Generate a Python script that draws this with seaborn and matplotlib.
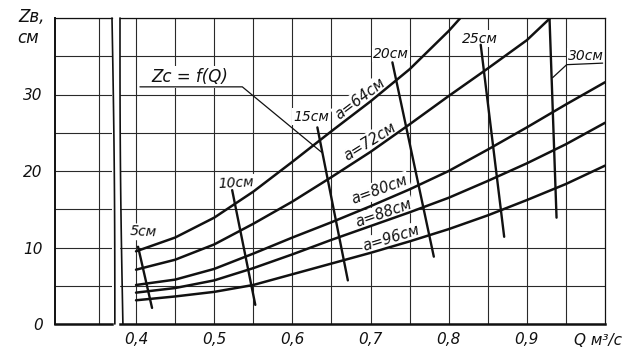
import numpy as np
import pandas as pd
import matplotlib
matplotlib.use("Agg")
import matplotlib.pyplot as plt
import seaborn as sns

# ---- data ----
a_labels = ["a=64см", "a=72см", "a=80см", "a=88см", "a=96см"]
q_a64 = [0.40, 0.45, 0.50, 0.55, 0.60, 0.65, 0.70, 0.75, 0.80, 0.815]
z_a64 = [9.5, 11.3, 13.9, 17.3, 21.2, 25.2, 29.1, 33.3, 38.3, 40.0]
q_a72 = [0.40, 0.45, 0.50, 0.55, 0.60, 0.65, 0.70, 0.75, 0.80, 0.85, 0.90, 0.93]
z_a72 = [7.1, 8.4, 10.4, 13.1, 16.0, 19.2, 22.5, 26.1, 29.8, 33.4, 37.1, 40.0]
q_rest = [0.40, 0.45, 0.50, 0.55, 0.60, 0.65, 0.70, 0.75, 0.80, 0.85, 0.90, 0.95, 1.00]
z_a80 = [5.1, 5.8, 7.2, 9.2, 11.3, 13.3, 15.4, 17.6, 20.0, 22.8, 25.7, 28.7, 31.6]
z_a88 = [4.1, 4.7, 5.7, 7.3, 9.1, 11.0, 12.8, 14.6, 16.5, 18.7, 21.0, 23.5, 26.3]
z_a96 = [3.1, 3.6, 4.2, 5.1, 6.5, 7.9, 9.3, 10.8, 12.4, 14.2, 16.2, 18.3, 20.7]

iso_labels = ["5см", "10см", "15см", "20см", "25см", "30см"]
iso_q_top = [0.4026, 0.523, 0.632, 0.728, 0.841, 0.929]
iso_z_top = [10.1, 17.5, 25.7, 34.2, 36.5, 40.0]
iso_q_bot = [0.4205, 0.5526, 0.671, 0.781, 0.871, 0.938]
iso_z_bot = [2.1, 2.5, 5.7, 8.8, 11.4, 13.9]

x_ticks = [0.4, 0.5, 0.6, 0.7, 0.8, 0.9]
x_ticklabels = ["0,4", "0,5", "0,6", "0,7", "0,8", "0,9"]
y_ticks = [0, 10, 20, 30]
y_ticklabels = ["0", "10", "20", "30"]

# ---- styling ----
sns.set_style("white")
plt.rcParams['font.family'] = ['DejaVu Sans']
ink = "#111111"
gridc = "#2a2a2a"

fig = plt.figure(figsize=(6.3, 3.54), dpi=100)
axL = fig.add_axes([55/630, 30/354, 57/630, 306/354])
ax = fig.add_axes([120/630, 30/354, 485/630, 306/354])

curves = pd.concat([
    pd.DataFrame({"Q": q_a64, "z": z_a64, "a": a_labels[0]}),
    pd.DataFrame({"Q": q_a72, "z": z_a72, "a": a_labels[1]}),
    pd.DataFrame({"Q": q_rest, "z": z_a80, "a": a_labels[2]}),
    pd.DataFrame({"Q": q_rest, "z": z_a88, "a": a_labels[3]}),
    pd.DataFrame({"Q": q_rest, "z": z_a96, "a": a_labels[4]}),
], ignore_index=True)

iso = pd.concat([
    pd.DataFrame({"Q": [qt, qb], "z": [zt, zb], "lab": lab})
    for lab, qt, zt, qb, zb in zip(iso_labels, iso_q_top, iso_z_top, iso_q_bot, iso_z_bot)
], ignore_index=True)

sns.lineplot(data=curves, x="Q", y="z", units="a", estimator=None, sort=False,
             color=ink, lw=1.8, ax=ax, legend=False, zorder=3,
             solid_joinstyle="round")
sns.lineplot(data=iso, x="Q", y="z", units="lab", estimator=None, sort=False,
             color=ink, lw=1.7, ax=ax, legend=False, zorder=3)

# ---- main axes ----
ax.set_xlim(0.3795, 1.0)
ax.set_ylim(0, 40)
ax.set_xticks(x_ticks)
ax.set_xticklabels(x_ticklabels, fontsize=11, style="italic")
ax.set_xticks([0.45, 0.55, 0.65, 0.75, 0.85, 0.95], minor=True)
ax.set_yticks([0, 10, 20, 30, 40])
ax.set_yticks([5, 15, 25, 35], minor=True)
ax.tick_params(which="both", length=0, labelleft=False, pad=6, colors=ink)
ax.grid(which="both", color=gridc, lw=0.8)
ax.set_axisbelow(True)
ax.set_xlabel("")
ax.set_ylabel("")
for s in ["top", "right"]:
    ax.spines[s].set_color(ink)
    ax.spines[s].set_linewidth(0.9)
ax.spines["bottom"].set_color(ink)
ax.spines["bottom"].set_linewidth(1.8)
ax.spines["left"].set_visible(False)

t = np.linspace(0, 1, 60)
ax.plot(0.006 * (1 - t) - 0.002 * np.sin(np.pi * t), t, transform=ax.transAxes,
        clip_on=False, color=ink, lw=1.2)

# ---- left (broken) axes ----
axL.set_xlim(0, 1)
axL.set_ylim(0, 40)
axL.set_xticks([0.77])
axL.set_xticklabels([])
axL.set_yticks(y_ticks)
axL.set_yticklabels(y_ticklabels, fontsize=11, style="italic")
axL.set_yticks([5, 15, 25, 35, 40], minor=True)
axL.tick_params(which="both", length=0, pad=9, colors=ink)
axL.grid(which="both", color=gridc, lw=0.8)
axL.set_axisbelow(True)
axL.spines["right"].set_visible(False)
axL.spines["left"].set_linewidth(1.4)
axL.spines["left"].set_color(ink)
axL.spines["top"].set_linewidth(0.9)
axL.spines["top"].set_color(ink)
axL.spines["bottom"].set_linewidth(1.8)
axL.spines["bottom"].set_color(ink)
axL.plot(1.0 + 0.05 * (1 - t) + 0.015 * np.sin(np.pi * t), t, transform=axL.transAxes,
         clip_on=False, color=ink, lw=1.2)

# ---- labels ----
hw = dict(style="italic", color=ink, ha="center", va="center", zorder=2.5)
box = dict(boxstyle="square,pad=0.1", fc="white", ec="none")

# iso-line labels
iso_lab_q = [0.409, 0.528, 0.624, 0.726, 0.840, 0.976]
iso_lab_z = [12.0, 18.4, 27.1, 35.3, 37.3, 35.0]
iso_lab_rot = [-3, 3, 0, 0, 0, 0]
for lab, qx, zy, r in zip(iso_labels, iso_lab_q, iso_lab_z, iso_lab_rot):
    ax.text(qx, zy, lab, fontsize=10, rotation=r, bbox=box, clip_on=False, **hw)

# leader for 30 cm
ax.plot([0.933, 0.951, 0.997], [32.2, 33.9, 34.1], color=ink, lw=0.9, zorder=3)

# curve labels
a_lab_q = [0.6866, 0.699, 0.712, 0.717, 0.727]
a_lab_z = [29.5, 23.9, 17.6, 14.5, 11.2]
a_lab_rot = [37, 32, 20, 19, 17]
for lab, qx, zy, r in zip(a_labels, a_lab_q, a_lab_z, a_lab_rot):
    ax.text(qx, zy, lab, fontsize=10.5, rotation=r, rotation_mode="anchor", bbox=box, **hw)

# zc = f(Q) annotation
ax.text(0.469, 32.3, "Zc = f(Q)", fontsize=12, bbox=box, **hw)
ax.plot([0.405, 0.536, 0.638], [31.0, 31.0, 22.4], color=ink, lw=0.9, zorder=3)

# axis titles
ax.text(0.991, -2.1, "Q м³/с", fontsize=11, clip_on=False, **hw)
fig.text(32/630, 1 - 17/354, "Zв,", fontsize=12, style="italic", color=ink, ha="center", va="center")
fig.text(28/630, 1 - 38/354, "см", fontsize=12, style="italic", color=ink, ha="center", va="center")

fig.savefig("out.png", dpi=100)
